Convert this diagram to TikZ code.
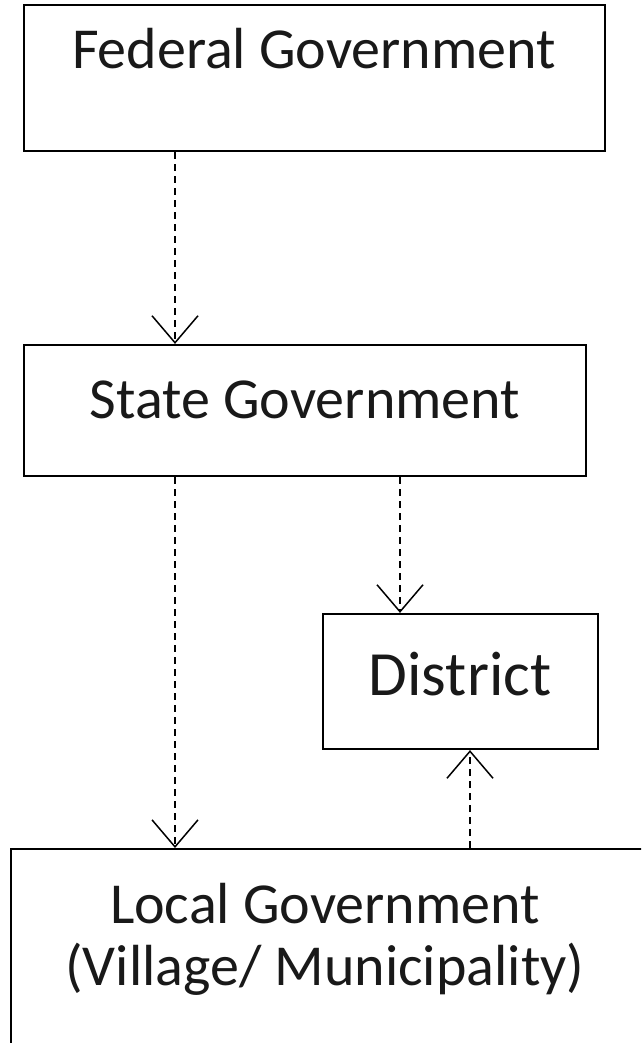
\documentclass[tikz,border=0pt]{standalone}
\usepackage{fontspec}
\setmainfont{Carlito}
\usetikzlibrary{arrows.meta}
\begin{document}
\begin{tikzpicture}[x=1pt,y=-1pt,
  box/.style={draw=black,line width=2.2pt,inner sep=0pt},
  lbl/.style={anchor=base,inner sep=0pt,text=black!90,font=\fontsize{58}{63}\selectfont},
  arr/.style={line width=1.5pt,dash pattern=on 7pt off 5pt,-{Straight Barb[length=27pt,width=46pt]}}]
\clip (0,0) rectangle (641,1043);
\fill[white] (0,0) rectangle (641,1043);
\node[box,minimum width=581pt,minimum height=146pt] (fed) at (314.5,78) {};
\node[lbl] (fedt) at (314,69) {Federal Government};
\node[box,minimum width=562pt,minimum height=131pt] (state) at (305,410.5) {};
\node[lbl] (statet) at (305,418) {State Government};
\node[box,minimum width=275pt,minimum height=135pt] (dist) at (460.5,681.5) {};
\node[lbl,font=\fontsize{63}{70}\selectfont] (distt) at (460,695) {District};
\node[box,minimum width=640pt,minimum height=260pt,anchor=north west] (local) at (10,848) {};
\node[lbl] (loc1) at (325,923) {Local Government};
\node[lbl] (loc2) at (325,985) {(Village/ Municipality)};
\coordinate (xa) at (175,0);
\coordinate (xb) at (400,0);
\coordinate (xc) at (470,0);
\draw[arr] (fed.south -| xa) -- (state.north -| xa);
\draw[arr] (state.south -| xa) -- (local.north -| xa);
\draw[arr] (state.south -| xb) -- (dist.north -| xb);
\draw[arr] (local.north -| xc) -- (dist.south -| xc);
\end{tikzpicture}
\end{document}
